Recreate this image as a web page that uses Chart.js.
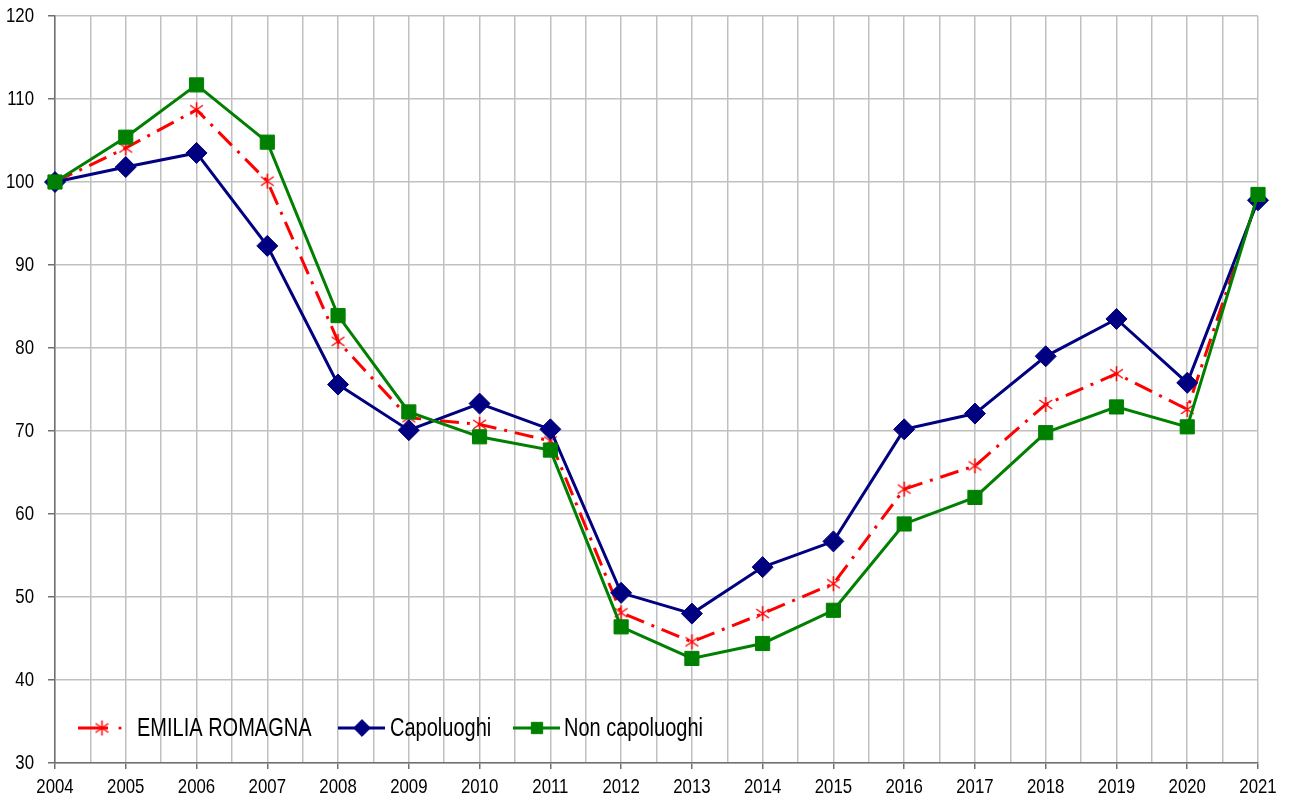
<!DOCTYPE html>
<html lang="it">
<head>
<meta charset="UTF-8">
<title>Emilia Romagna</title>
<script src="https://cdn.jsdelivr.net/npm/chart.js"></script>
<style>
  html, body { margin: 0; padding: 0; background: #fff; }
  #wrap { width: 1290px; height: 803px; }
</style>
</head>
<body>
<div id="wrap"><canvas id="chart"></canvas></div>
<script>
// dati
var anni = [2004, 2005, 2006, 2007, 2008, 2009, 2010, 2011, 2012, 2013, 2014, 2015, 2016, 2017, 2018, 2019, 2020, 2021];
var emiliaRomagna = [100, 104.1, 108.7, 100.1, 80.8, 71.6, 70.8, 68.8, 48.1, 44.6, 48.0, 51.6, 63.0, 65.8, 73.2, 76.9, 72.6, 98.2];
var capoluoghi = [100, 101.8, 103.5, 92.3, 75.6, 70.1, 73.3, 70.2, 50.5, 48.0, 53.6, 56.7, 70.2, 72.1, 79.0, 83.5, 75.8, 97.8];
var nonCapoluoghi = [100, 105.4, 111.7, 104.8, 83.9, 72.3, 69.3, 67.7, 46.4, 42.6, 44.4, 48.4, 58.8, 62.0, 69.8, 72.9, 70.5, 98.5];

var FONT = '"Liberation Sans", Arial, sans-serif';
var STRETTO = 0.8; // il grafico originale usa un carattere stretto

function punti(valori) {
  return anni.map(function (a, i) { return { x: a, y: valori[i] }; });
}

// asterisco a 6 bracci (come nel grafico originale)
function asterisco(colore, lato) {
  var c = document.createElement('canvas');
  c.width = lato; c.height = lato;
  var g = c.getContext('2d');
  var m = lato / 2, r = lato / 2 - 1;
  g.strokeStyle = colore;
  g.lineWidth = 1.5;
  g.beginPath();
  g.moveTo(m, m - r); g.lineTo(m, m + r);
  g.moveTo(m - r * 0.85, m - r * 0.6); g.lineTo(m + r * 0.85, m + r * 0.6);
  g.moveTo(m + r * 0.85, m - r * 0.6); g.lineTo(m - r * 0.85, m + r * 0.6);
  g.stroke();
  return c;
}
var stellaRossa = asterisco('#ff0000', 17);

// testo compresso in orizzontale
function testoStretto(ctx, testo, x, y, allinea) {
  ctx.save();
  ctx.translate(x, y);
  ctx.scale(STRETTO, 1);
  ctx.textAlign = allinea;
  ctx.fillText(testo, 0, 0);
  ctx.restore();
}

// etichette degli assi, prese dalle scale del grafico
var etichette = {
  id: 'etichette',
  afterDraw: function (chart) {
    var ctx = chart.ctx;
    var sx = chart.scales.x, sy = chart.scales.y;
    ctx.save();
    ctx.fillStyle = '#000';
    ctx.font = '21px ' + FONT;
    ctx.textBaseline = 'middle';
    sx.ticks.forEach(function (t) {
      if (!Number.isInteger(t.value)) return;
      testoStretto(ctx, String(t.value), sx.getPixelForValue(t.value), sx.bottom + 18, 'center');
    });
    sy.ticks.forEach(function (t) {
      testoStretto(ctx, String(t.value), sy.right - 21, sy.getPixelForValue(t.value), 'right');
    });
    ctx.restore();
  }
};

// legenda disegnata dentro l'area del grafico, in basso a sinistra
var legendaInterna = {
  id: 'legendaInterna',
  afterDatasetsDraw: function (chart) {
    var ctx = chart.ctx;
    var y = 728;
    var voci = [
      { ds: 0, linea: [78, 108], punto: 102, testo: 137 },
      { ds: 1, linea: [338, 385], punto: 362, testo: 390 },
      { ds: 2, linea: [513, 560], punto: 537, testo: 564 }
    ];
    ctx.save();
    ctx.font = '25px ' + FONT;
    ctx.textBaseline = 'middle';
    voci.forEach(function (v) {
      var ds = chart.data.datasets[v.ds];
      ctx.strokeStyle = ds.borderColor;
      ctx.lineWidth = 3;
      ctx.beginPath();
      ctx.moveTo(v.linea[0], y);
      ctx.lineTo(v.linea[1], y);
      ctx.stroke();
      if (ds.legendDot) {
        ctx.fillStyle = ds.borderColor;
        ctx.beginPath();
        ctx.arc(120, y, 1.6, 0, Math.PI * 2);
        ctx.fill();
      }
      ctx.fillStyle = ds.pointBackgroundColor;
      ctx.strokeStyle = ds.pointBorderColor;
      ctx.lineWidth = 1;
      Chart.helpers.drawPoint(ctx, {
        pointStyle: ds.pointStyle,
        radius: ds.pointRadius * 0.8,
        borderWidth: 1
      }, v.punto, y);
      ctx.fillStyle = '#000';
      testoStretto(ctx, ds.label, v.testo, y + 1, 'left');
    });
    ctx.restore();
  }
};

new Chart(document.getElementById('chart'), {
  type: 'line',
  data: {
    datasets: [
      {
        label: 'EMILIA ROMAGNA',
        data: punti(emiliaRomagna),
        borderColor: '#ff0000',
        borderWidth: 3,
        borderDash: [19, 8, 3, 8],
        pointStyle: stellaRossa,
        pointRadius: 8,
        pointBorderWidth: 1,
        pointBackgroundColor: '#ff0000',
        pointBorderColor: '#ff0000',
        legendDot: true,
        order: 2
      },
      {
        label: 'Capoluoghi',
        data: punti(capoluoghi),
        borderColor: '#000080',
        borderWidth: 3,
        pointStyle: 'rectRot',
        pointRadius: 10.5,
        pointBorderWidth: 1,
        pointBackgroundColor: '#000080',
        pointBorderColor: '#000080',
        order: 1
      },
      {
        label: 'Non capoluoghi',
        data: punti(nonCapoluoghi),
        borderColor: '#008000',
        borderWidth: 3,
        pointStyle: 'rect',
        pointRadius: 10,
        pointBorderWidth: 1,
        pointBackgroundColor: '#008000',
        pointBorderColor: '#008000',
        order: 0
      }
    ]
  },
  options: {
    responsive: true,
    maintainAspectRatio: false,
    animation: false,
    clip: false,
    layout: { padding: { top: 16, right: 32, left: 48, bottom: 34 } },
    plugins: {
      legend: { display: false },
      tooltip: { enabled: false }
    },
    elements: { line: { tension: 0 } },
    scales: {
      x: {
        type: 'linear',
        min: 2004,
        max: 2021,
        ticks: { stepSize: 0.5, autoSkip: false, display: false },
        grid: {
          color: '#c0c0c0',
          lineWidth: 1.5,
          tickLength: 6,
          tickColor: function (c) { return Number.isInteger(c.tick.value) ? '#707070' : 'rgba(0,0,0,0)'; }
        },
        border: { color: '#707070', width: 1.5 }
      },
      y: {
        min: 30,
        max: 120,
        ticks: { stepSize: 10, display: false },
        grid: {
          color: '#c0c0c0',
          lineWidth: 1.5,
          tickLength: 7,
          tickColor: '#707070'
        },
        border: { color: '#707070', width: 1.5 }
      }
    }
  },
  plugins: [legendaInterna, etichette]
});
</script>
</body>
</html>
